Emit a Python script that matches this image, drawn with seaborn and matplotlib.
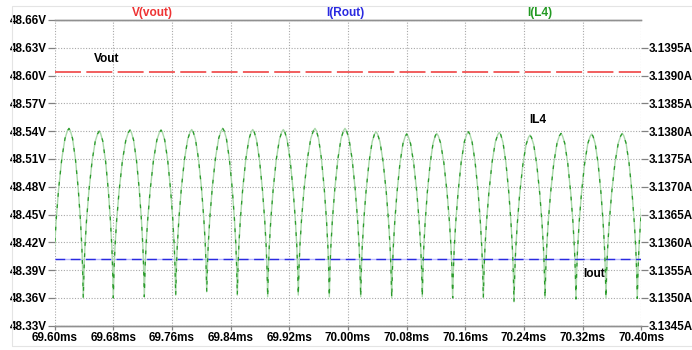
import numpy as np
import pandas as pd
import seaborn as sns
import matplotlib.pyplot as plt
from matplotlib.patches import Rectangle

# ---------------- data ----------------
x_ticks = [69.60, 69.68, 69.76, 69.84, 69.92, 70.00, 70.08, 70.16, 70.24, 70.32, 70.40]
v_ticks = [48.33, 48.36, 48.39, 48.42, 48.45, 48.48, 48.51, 48.54, 48.57, 48.60, 48.63, 48.66]
a_ticks = [3.1345, 3.1350, 3.1355, 3.1360, 3.1365, 3.1370, 3.1375, 3.1380, 3.1385, 3.1390, 3.1395]

vout_t = [69.60, 70.40]
vout_v = [48.6037, 48.6037]

iout_t = [69.60, 70.40]
iout_v = [3.1357, 3.1357]

# I(L4): trough and peak instants/values of each arc
trough_t = [69.5978, 69.6391, 69.6800, 69.7223, 69.7651, 69.8074, 69.8491, 69.8905,
            69.9322, 69.9745, 70.0173, 70.0596, 70.1013, 70.1427, 70.1845, 70.2263,
            70.2686, 70.3108, 70.3517, 70.3944]
trough_v = [3.13500, 3.13500, 3.13500, 3.13502, 3.13505, 3.13511, 3.13505, 3.13502,
            3.13505, 3.13502, 3.13502, 3.13500, 3.13502, 3.13500, 3.13500, 3.13493,
            3.13500, 3.13498, 3.13500, 3.13499]
peak_t = [69.6196, 69.6609, 69.7028, 69.7451, 69.7869, 69.8292, 69.8701, 69.9118,
          69.9550, 69.9959, 70.0382, 70.0800, 70.1209, 70.1640, 70.2063, 70.2481,
          70.2904, 70.3322, 70.3740, 70.4162]
peak_v = [3.13805, 3.13800, 3.13802, 3.13802, 3.13803, 3.13805, 3.13803, 3.13803,
          3.13805, 3.13805, 3.13799, 3.13795, 3.13796, 3.13799, 3.13798, 3.13793,
          3.13796, 3.13795, 3.13796, 3.13796]
# arc edge shape (time fraction from trough -> rise fraction)
edge_t = [0.0, 0.05, 0.10, 0.20, 0.35, 0.55, 0.75, 0.90, 1.0]
edge_v = [0.0, 0.18, 0.30, 0.46, 0.64, 0.82, 0.94, 0.985, 1.0]

# ---------------- build I(L4) point list ----------------
il_t, il_v = [], []
for i in range(len(peak_t)):
    t0, v0, tp, vp = trough_t[i], trough_v[i], peak_t[i], peak_v[i]
    for ft, fv in zip(edge_t, edge_v):
        il_t.append(t0 + ft * (tp - t0)); il_v.append(v0 + fv * (vp - v0))
    if i + 1 < len(trough_t):
        t1, v1 = trough_t[i + 1], trough_v[i + 1]
        for ft, fv in zip(edge_t[::-1][1:-1], edge_v[::-1][1:-1]):
            il_t.append(t1 - ft * (t1 - tp)); il_v.append(v1 + fv * (vp - v1))
il_df = pd.DataFrame({"t": il_t, "i": il_v})
vout_df = pd.DataFrame({"t": vout_t, "v": vout_v})
iout_df = pd.DataFrame({"t": iout_t, "i": iout_v})

# ---------------- figure ----------------
sns.set_theme(style="white")
plt.rcParams['font.family'] = ['Liberation Sans', 'DejaVu Sans']

W, H = 692, 350
fig = plt.figure(figsize=(W / 100, H / 100), dpi=100)
ax = fig.add_axes([54.6 / W, 1 - 325.7 / H, (641.4 - 54.6) / W, (325.7 - 20) / H])
ax2 = ax.twinx()

RED, BLUE, GREEN = "#ee3333", "#2a2ae0", "#2a9a2a"

sns.lineplot(data=vout_df, x="t", y="v", ax=ax, color=RED, linewidth=1.1,
             linestyle=(0, (17, 3.5)), zorder=3)

sns.lineplot(data=iout_df, x="t", y="i", ax=ax2, color="#b8b8ff", linewidth=1.0, zorder=2)
sns.lineplot(data=iout_df, x="t", y="i", ax=ax2, color=BLUE, linewidth=1.0,
             linestyle=(0, (7, 4)), zorder=3)
sns.lineplot(data=il_df, x="t", y="i", ax=ax2, color="#a9d8a9", linewidth=1.0,
             sort=False, estimator=None, zorder=2)
sns.lineplot(data=il_df, x="t", y="i", ax=ax2, color=GREEN, linewidth=0.9,
             linestyle=(0, (3, 6)), sort=False, estimator=None, zorder=3)

for a in (ax, ax2):
    a.set_xlim(69.60, 70.40)
    a.set_xlabel("")
    a.set_ylabel("")
    if a.get_legend():
        a.get_legend().remove()
ax.set_ylim(48.33, 48.66)
ax2.set_ylim(3.1345, 3.1400)

ax.set_xticks(x_ticks)
ax.set_xticklabels([f"{x:.2f}ms" for x in x_ticks])
ax.set_yticks(v_ticks)
ax.set_yticklabels([f"{v:.2f}V" for v in v_ticks])
ax2.set_yticks(a_ticks)
ax2.set_yticklabels([f"{v:.4f}A" for v in a_ticks])

lab = dict(labelsize=8.4, labelcolor="black", color="#808080", width=0.9)
ax.tick_params(axis="y", left=True, length=5, pad=0.5, **lab)
ax.tick_params(axis="x", bottom=True, length=3, pad=1.5, **lab)
ax2.tick_params(axis="y", right=True, length=5, pad=0.5, **lab)
for t in ax.get_xticklabels() + ax.get_yticklabels() + ax2.get_yticklabels():
    t.set_fontweight("bold")

ax.grid(True, color="#a8a8a8", linestyle=(0, (1, 1.5)), linewidth=0.8)
ax.set_axisbelow(True)
for a in (ax, ax2):
    for s in ("left", "right"):
        a.spines[s].set_visible(False)
    for s in ("top", "bottom"):
        a.spines[s].set_color("#909090")
        a.spines[s].set_linewidth(1.0)

def ftext(x, y, s, color="black", **kw):
    fig.text(x / W, 1 - y / H, s, color=color, ha="center", va="center",
             fontsize=8.6, fontweight="bold", **kw)

ftext(152, 13, "V(vout)", RED)
ftext(345, 13, "I(Rout)", BLUE)
ftext(540, 13, "I(L4)", "#229922")
ftext(107, 59.5, "Vout")
ftext(538, 120, "IL4")
ftext(594, 274, "Iout")

# faint window frame
fig.add_artist(Rectangle((12 / W, 1 - 346 / H), (W + 20) / W, (346 - 6) / H,
                         transform=fig.transFigure, fill=False,
                         edgecolor="#e4e4e4", linewidth=0.8))

fig.savefig("out.png", dpi=100)
